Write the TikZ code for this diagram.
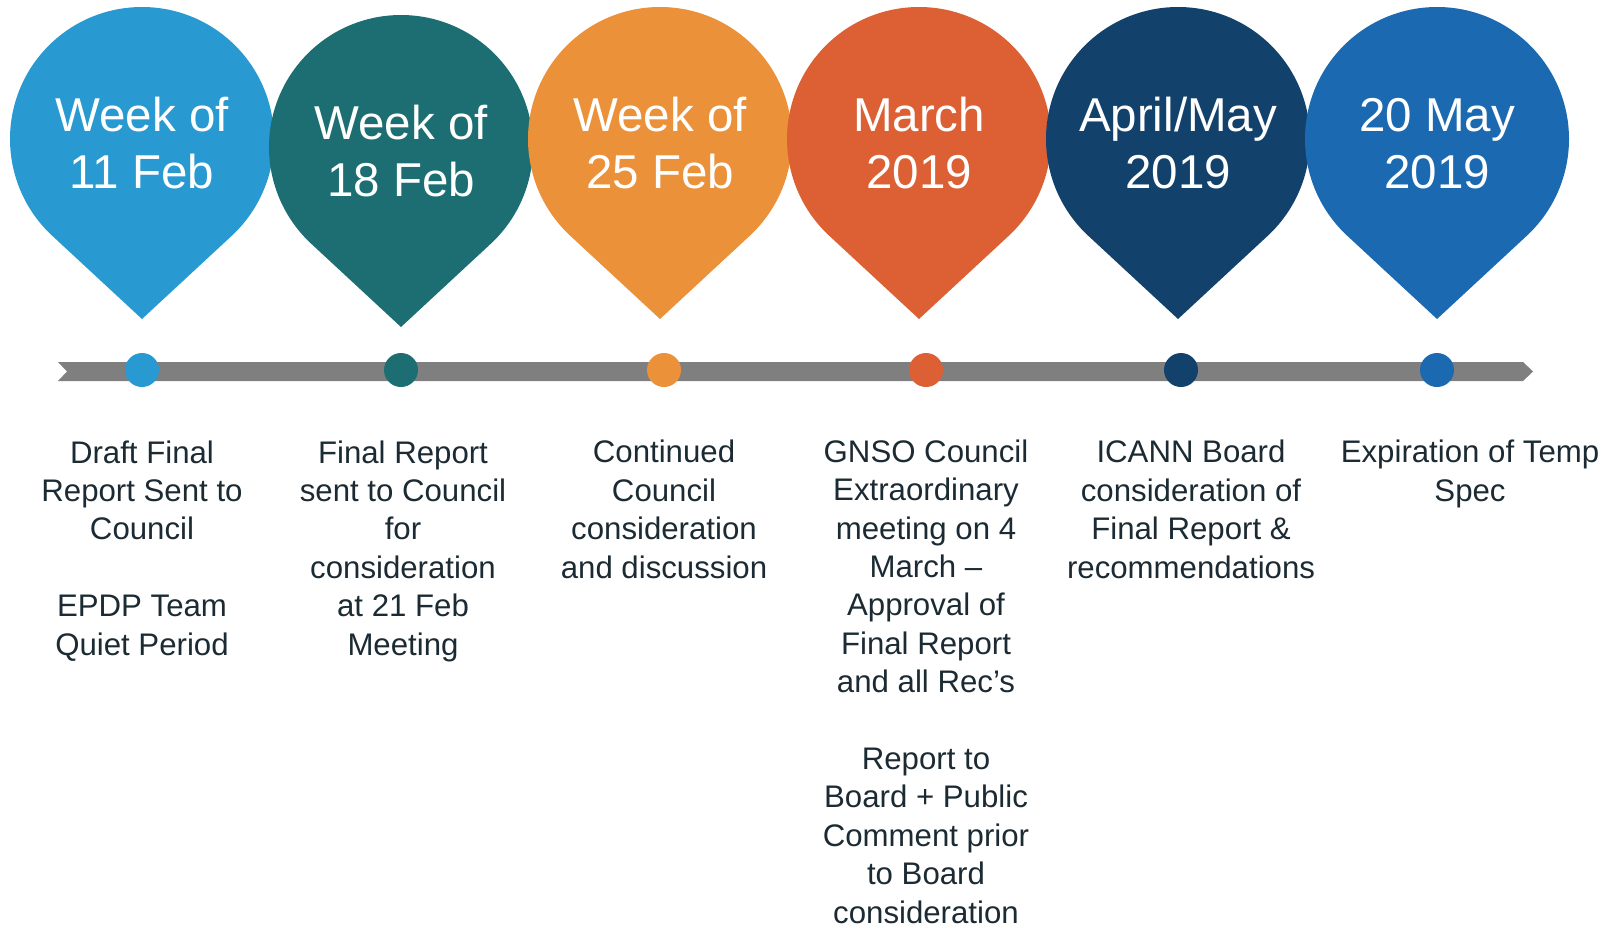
\documentclass[tikz,border=0pt]{standalone}
\usepackage{fontspec}
\setmainfont{Liberation Sans}

\definecolor{pinblue}{HTML}{2899D1}
\definecolor{pinteal}{HTML}{1C6E72}
\definecolor{pinorange}{HTML}{EA913A}
\definecolor{pinred}{HTML}{DC6034}
\definecolor{pinnavy}{HTML}{12426C}
\definecolor{pinroyal}{HTML}{1B69B1}
\definecolor{bargray}{HTML}{7F7F7F}
\definecolor{notetext}{HTML}{1C2B33}

\begin{document}
\begin{tikzpicture}[x=0.5pt,y=-0.5pt,
  datefont/.style={anchor=base,align=center,inner sep=0pt,text=white,font=\fontsize{23.75}{28.5}\selectfont},
  notefont/.style={anchor=base,align=center,inner sep=0pt,text=notetext,font=\fontsize{15.6}{19.2}\selectfont},
  dot/.style={circle,inner sep=0pt,minimum size=17pt}]
  \useasboundingbox (0,0) rectangle (1609,926);

  % Pins (circle + tangent point), drawn left to right so each overlaps the previous one
  % (text nodes sit on the baseline of their last line)
  \fill[pinblue] (142,139) ++(132.8:132) arc[start angle=132.8,end angle=407.2,radius=132] -- (142,319) -- cycle;
  \node[datefont] (t1) at (142,188) {Week of\\11 Feb};

  \fill[pinteal] (401,147) ++(132.8:132) arc[start angle=132.8,end angle=407.2,radius=132] -- (401,327) -- cycle;
  \node[datefont] (t2) at (401,196) {Week of\\18 Feb};

  \fill[pinorange] (660,139) ++(132.8:132) arc[start angle=132.8,end angle=407.2,radius=132] -- (660,319) -- cycle;
  \node[datefont] (t3) at (660,188) {Week of\\25 Feb};

  \fill[pinred] (919,139) ++(132.8:132) arc[start angle=132.8,end angle=407.2,radius=132] -- (919,319) -- cycle;
  \node[datefont] (t4) at (919,188) {March\\2019};

  \fill[pinnavy] (1178,139) ++(132.8:132) arc[start angle=132.8,end angle=407.2,radius=132] -- (1178,319) -- cycle;
  \node[datefont] (t5) at (1178,188) {April/May\\2019};

  \fill[pinroyal] (1437,139) ++(132.8:132) arc[start angle=132.8,end angle=407.2,radius=132] -- (1437,319) -- cycle;
  \node[datefont] (t6) at (1437,188) {20 May\\2019};

  % Time bar
  \fill[bargray] (58,362) -- (1523,362) -- (1533,371.5) -- (1523,381) -- (58,381) -- (67,371.5) -- cycle;

  % Markers on the bar
  \node[dot,fill=pinblue]   (d1) at (142,370) {};
  \node[dot,fill=pinteal]   (d2) at (401,370) {};
  \node[dot,fill=pinorange] (d3) at (664,370) {};
  \node[dot,fill=pinred]    (d4) at (926,370) {};
  \node[dot,fill=pinnavy]   (d5) at (1181,370) {};
  \node[dot,fill=pinroyal]  (d6) at (1437,370) {};

  % Milestone notes (first line at y=463, 38.4 per line)
  \node[notefont] (n1) at (142,655) {Draft Final\\Report Sent to\\Council\\[19.2pt]EPDP Team\\Quiet Period};
  \node[notefont] (n2) at (403,655) {Final Report\\sent to Council\\for\\consideration\\at 21 Feb\\Meeting};
  \node[notefont] (n3) at (664,578) {Continued\\Council\\consideration\\and discussion};
  \node[notefont] (n4) at (926,923) {GNSO Council\\Extraordinary\\meeting on 4\\March --\\Approval of\\Final Report\\and all Rec’s\\[19.2pt]Report to\\Board + Public\\Comment prior\\to Board\\consideration};
  \node[notefont] (n5) at (1191,578) {ICANN Board\\consideration of\\Final Report \&\\recommendations};
  \node[notefont] (n6) at (1470,501) {Expiration of Temp\\Spec};
\end{tikzpicture}
\end{document}
